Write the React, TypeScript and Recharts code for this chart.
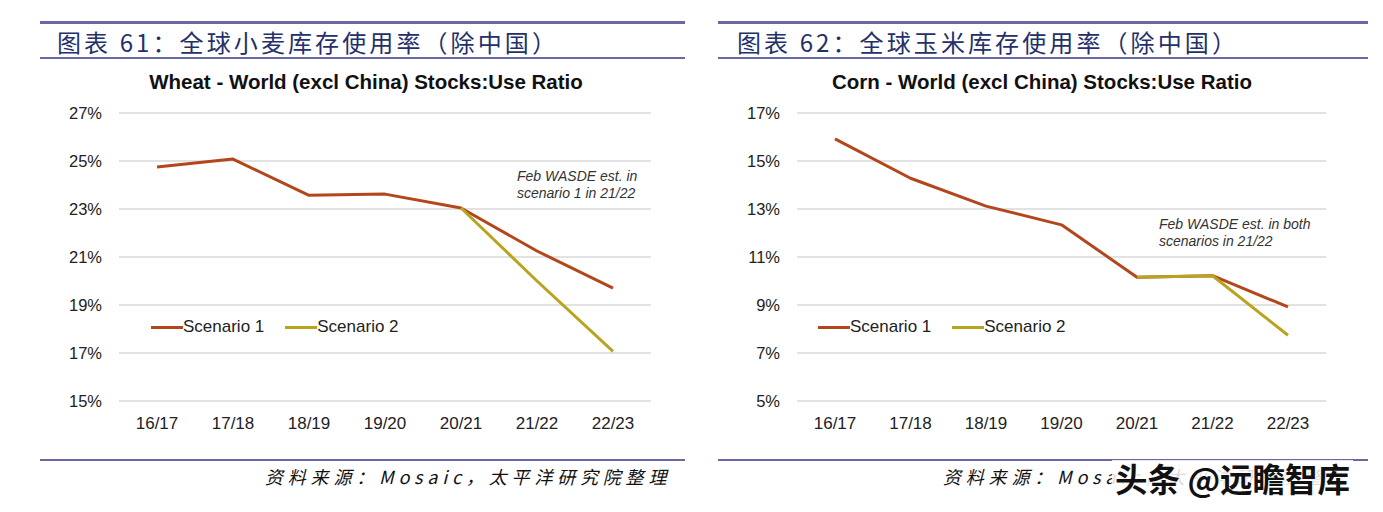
import React from "react";
import { LineChart, Line, XAxis, YAxis, CartesianGrid, Legend } from "recharts";

const seasons = ["16/17", "17/18", "18/19", "19/20", "20/21", "21/22", "22/23"];

const wheatScenario1 = [24.75, 25.08, 23.57, 23.62, 23.04, 21.25, 19.7];
const wheatScenario2 = [null, null, null, null, 23.04, 20.0, 17.07];
const wheatTicks = [15, 17, 19, 21, 23, 25, 27];

const cornScenario1 = [15.92, 14.28, 13.12, 12.34, 10.16, 10.22, 8.92];
const cornScenario2 = [null, null, null, null, 10.16, 10.22, 7.74];
const cornTicks = [5, 7, 9, 11, 13, 15, 17];

const S1_COLOR = "#b4461c";
const S2_COLOR = "#b9a41f";
const RULE = "#6a68a4";
const SANS = "'Liberation Sans', Arial, sans-serif";
const CJK = "'Noto Sans CJK SC', sans-serif";

const buildRows = (s1: (number | null)[], s2: (number | null)[]) =>
    seasons.map((season, i) => ({ season, s1: s1[i], s2: s2[i] }));

const renderLegend = (props: any) => {
    const items = props.payload || [];
    return (
        <div style={{ display: "flex", alignItems: "center", fontFamily: SANS, fontSize: 17, color: "#222", whiteSpace: "nowrap" }}>
            {items.map((it: any, i: number) => (
                <div key={i} style={{ display: "flex", alignItems: "center", marginRight: 21 }}>
                    <span style={{ display: "inline-block", width: 32, height: 3, background: it.color }} />
                    <span style={{ lineHeight: "20px" }}>{it.value}</span>
                </div>
            ))}
        </div>
    );
};

interface PanelProps {
    x: number;
    width: number;
    rightMargin: number;
    header: string;
    headerX: number;
    title: string;
    titleCenter: number;
    rows: any[];
    ticks: number[];
    note: string[];
    noteX: number;
    noteY: number;
    legendX: number;
}

function Panel(p: PanelProps) {
    return (
        <>
            <div style={{ position: "absolute", left: p.x, top: 21, width: p.width, height: 3, background: RULE }} />
            <div style={{ position: "absolute", left: p.headerX, top: 26, fontFamily: CJK, fontSize: 24, letterSpacing: 3.1, color: "#24306a", lineHeight: "32px", whiteSpace: "nowrap" }}>
                {p.header}
            </div>
            <div style={{ position: "absolute", left: p.x, top: 57, width: p.width, height: 2, background: RULE }} />
            <div style={{ position: "absolute", left: p.titleCenter - 300, width: 600, top: 70, textAlign: "center", fontFamily: SANS, fontWeight: "bold", fontSize: 20.5, color: "#111", lineHeight: "24px" }}>
                {p.title}
            </div>
            <div style={{ position: "absolute", left: p.noteX, top: p.noteY, fontFamily: SANS, fontStyle: "italic", fontSize: 14, color: "#333", lineHeight: "17px", whiteSpace: "nowrap", zIndex: 1 }}>
                {p.note.map((l, i) => <div key={i}>{l}</div>)}
            </div>
            <div style={{ position: "absolute", left: p.x, top: 95 }}>
                <LineChart width={p.width} height={345} data={p.rows} margin={{ top: 18, right: p.rightMargin, bottom: 0, left: 0 }}>
                    <CartesianGrid vertical={false} stroke="#d9d9d9" strokeWidth={1.5} />
                    <XAxis
                        dataKey="season"
                        axisLine={false}
                        tickLine={false}
                        tickMargin={10}
                        height={39}
                        padding={{ left: 38, right: 38 }}
                        tick={{ fontSize: 17, fill: "#222", fontFamily: SANS }}
                    />
                    <YAxis
                        type="number"
                        domain={[p.ticks[0], p.ticks[p.ticks.length - 1]]}
                        ticks={p.ticks}
                        width={79}
                        axisLine={false}
                        tickLine={false}
                        tickMargin={11}
                        tickFormatter={(v: number) => `${v}%`}
                        tick={{ fontSize: 16.5, fill: "#222", fontFamily: SANS }}
                    />
                    <Legend
                        layout="horizontal"
                        verticalAlign="middle"
                        align="center"
                        content={renderLegend}
                        wrapperStyle={{ position: "absolute", left: p.legendX, top: 222, width: "auto" }}
                    />
                    <Line dataKey="s1" name="Scenario 1" stroke={S1_COLOR} strokeWidth={3} dot={false} isAnimationActive={false} strokeLinejoin="round" />
                    <Line dataKey="s2" name="Scenario 2" stroke={S2_COLOR} strokeWidth={3} dot={false} isAnimationActive={false} strokeLinejoin="round" connectNulls={false} />
                </LineChart>
            </div>
            <div style={{ position: "absolute", left: p.x, top: 459, width: p.width, height: 2, background: RULE }} />
            <div style={{ position: "absolute", left: p.x + 225, top: 464, fontFamily: CJK, fontStyle: "italic", fontSize: 18, letterSpacing: 4.8, color: "#111", lineHeight: "24px", whiteSpace: "nowrap" }}>
                资料来源：Mosaic，太平洋研究院整理
            </div>
        </>
    );
}

export default function App() {
    return (
        <div style={{ position: "absolute", left: 0, top: 0, width: 1383, height: 512, background: "#fff", overflow: "hidden" }}>
            <Panel
                x={40}
                width={645}
                rightMargin={34}
                header="图表 61：全球小麦库存使用率（除中国）"
                headerX={57}
                title="Wheat - World (excl China) Stocks:Use Ratio"
                titleCenter={366}
                rows={buildRows(wheatScenario1, wheatScenario2)}
                ticks={wheatTicks}
                note={["Feb WASDE est. in", "scenario 1 in 21/22"]}
                noteX={517}
                noteY={168}
                legendX={111}
            />
            <Panel
                x={718}
                width={650}
                rightMargin={42}
                header="图表 62：全球玉米库存使用率（除中国）"
                headerX={737}
                title="Corn - World (excl China) Stocks:Use Ratio"
                titleCenter={1042}
                rows={buildRows(cornScenario1, cornScenario2)}
                ticks={cornTicks}
                note={["Feb WASDE est. in both", "scenarios in 21/22"]}
                noteX={1159}
                noteY={216}
                legendX={100}
            />
            <div style={{ position: "absolute", left: 1112, top: 460, padding: "0 3px", background: "rgba(255,255,255,0.85)", fontFamily: CJK, fontWeight: "bold", fontSize: 32.5, color: "#111", lineHeight: "36px", whiteSpace: "nowrap", textShadow: "0 0 2px #fff, 0 0 3px #fff" }}>
                头条 @远瞻智库
            </div>
        </div>
    );
}
